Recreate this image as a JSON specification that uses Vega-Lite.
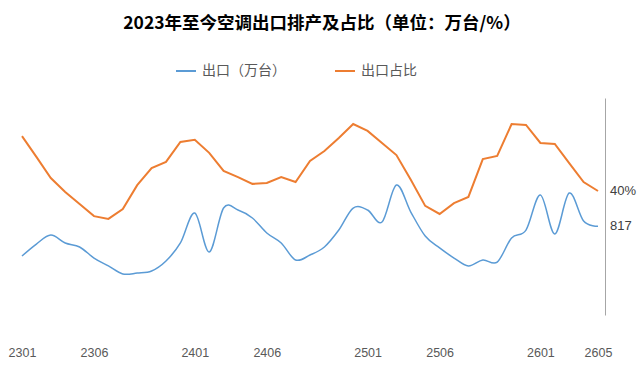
{
  "$schema": "https://vega.github.io/schema/vega-lite/v6.json",
  "width": 590,
  "height": 217,
  "autosize": "none",
  "padding": {"left": 15, "top": 98, "right": 37, "bottom": 63},
  "background": "white",
  "title": {
    "text": "2023年至今空调出口排产及占比（单位：万台/%）",
    "font": "Noto Sans CJK SC",
    "fontSize": 17.5,
    "fontWeight": "bold",
    "color": "#000000",
    "anchor": "middle",
    "dx": 12,
    "offset": 28
  },
  "config": {
    "view": {"stroke": null},
    "font": "Noto Sans CJK SC"
  },
  "data": {
    "values": [
      {"month": "2301", "export": 544, "share": 0.577},
      {"month": "2302", "export": 654, "share": 0.510},
      {"month": "2303", "export": 737, "share": 0.442},
      {"month": "2304", "export": 664, "share": 0.397},
      {"month": "2305", "export": 627, "share": 0.358},
      {"month": "2306", "export": 525, "share": 0.319},
      {"month": "2307", "export": 452, "share": 0.310},
      {"month": "2308", "export": 378, "share": 0.342},
      {"month": "2309", "export": 387, "share": 0.419},
      {"month": "2310", "export": 406, "share": 0.474},
      {"month": "2311", "export": 498, "share": 0.494},
      {"month": "2312", "export": 664, "share": 0.558},
      {"month": "2401", "export": 940, "share": 0.565},
      {"month": "2402", "export": 581, "share": 0.523},
      {"month": "2403", "export": 986, "share": 0.465},
      {"month": "2404", "export": 968, "share": 0.445},
      {"month": "2405", "export": 894, "share": 0.423},
      {"month": "2406", "export": 756, "share": 0.426},
      {"month": "2407", "export": 664, "share": 0.445},
      {"month": "2408", "export": 507, "share": 0.429},
      {"month": "2409", "export": 553, "share": 0.497},
      {"month": "2410", "export": 627, "share": 0.529},
      {"month": "2411", "export": 783, "share": 0.571},
      {"month": "2412", "export": 986, "share": 0.616},
      {"month": "2501", "export": 968, "share": 0.594},
      {"month": "2502", "export": 857, "share": 0.555},
      {"month": "2503", "export": 1198, "share": 0.516},
      {"month": "2504", "export": 949, "share": 0.436},
      {"month": "2505", "export": 728, "share": 0.352},
      {"month": "2506", "export": 618, "share": 0.326},
      {"month": "2507", "export": 525, "share": 0.361},
      {"month": "2508", "export": 452, "share": 0.381},
      {"month": "2509", "export": 507, "share": 0.503},
      {"month": "2510", "export": 488, "share": 0.513},
      {"month": "2511", "export": 710, "share": 0.616},
      {"month": "2512", "export": 783, "share": 0.613},
      {"month": "2601", "export": 1106, "share": 0.555},
      {"month": "2602", "export": 747, "share": 0.552},
      {"month": "2603", "export": 1124, "share": 0.490},
      {"month": "2604", "export": 866, "share": 0.429},
      {"month": "2605", "export": 817, "share": 0.400}
    ]
  },
  "encoding": {
    "x": {
      "field": "month",
      "type": "ordinal",
      "sort": null,
      "scale": {"type": "point", "padding": 0.486},
      "axis": {
        "values": ["2301", "2306", "2401", "2406", "2501", "2506", "2601", "2605"],
        "labelAngle": 0,
        "domain": false,
        "ticks": false,
        "grid": false,
        "title": null,
        "labelPadding": 31,
        "labelFontSize": 12.5,
        "labelColor": "#595959",
        "labelFont": "Liberation Sans"
      }
    }
  },
  "layer": [
    {
      "layer": [
        {
          "mark": {"type": "line", "interpolate": "cardinal", "strokeWidth": 1.5},
          "encoding": {
            "y": {"field": "export", "type": "quantitative", "scale": {"domain": [0, 2000], "nice": false, "zero": true}, "axis": null},
            "color": {
              "datum": "出口（万台）",
              "type": "nominal",
              "scale": {"domain": ["出口（万台）", "出口占比"], "range": ["#5B9BD5", "#ED7D31"]},
              "legend": {
                "orient": "none",
                "legendX": 160,
                "legendY": -38,
                "direction": "horizontal",
                "title": null,
                "symbolType": "stroke",
                "symbolStrokeWidth": 2,
                "symbolSize": 400,
                "labelFontSize": 14,
                "labelColor": "#595959",
                "labelFont": "Noto Sans CJK SC",
                "columnPadding": 45,
                "labelOffset": 5
              }
            }
          }
        },
        {
          "transform": [{"filter": "datum.month == '2605'"}],
          "mark": {"type": "text", "align": "left", "dx": 12, "fontSize": 13, "color": "#404040", "font": "Liberation Sans"},
          "encoding": {
            "y": {"field": "export", "type": "quantitative", "scale": {"domain": [0, 2000], "nice": false, "zero": true}, "axis": null},
            "text": {"field": "export", "type": "quantitative", "format": "d"}
          }
        }
      ]
    },
    {
      "layer": [
        {
          "mark": {"type": "line", "strokeWidth": 2},
          "encoding": {
            "y": {
              "field": "share",
              "type": "quantitative",
              "scale": {"domain": [0, 0.7], "nice": false, "zero": true},
              "axis": {"orient": "right", "labels": false, "ticks": false, "grid": false, "title": null, "domainColor": "#a6a6a6", "domainWidth": 1}
            },
            "color": {"datum": "出口占比", "type": "nominal"}
          }
        },
        {
          "transform": [{"filter": "datum.month == '2605'"}],
          "mark": {"type": "text", "align": "left", "dx": 12, "fontSize": 13, "color": "#404040", "font": "Liberation Sans"},
          "encoding": {
            "y": {"field": "share", "type": "quantitative", "scale": {"domain": [0, 0.7], "nice": false, "zero": true}},
            "text": {"field": "share", "type": "quantitative", "format": ".0%"}
          }
        }
      ]
    }
  ],
  "resolve": {"scale": {"y": "independent"}}
}
